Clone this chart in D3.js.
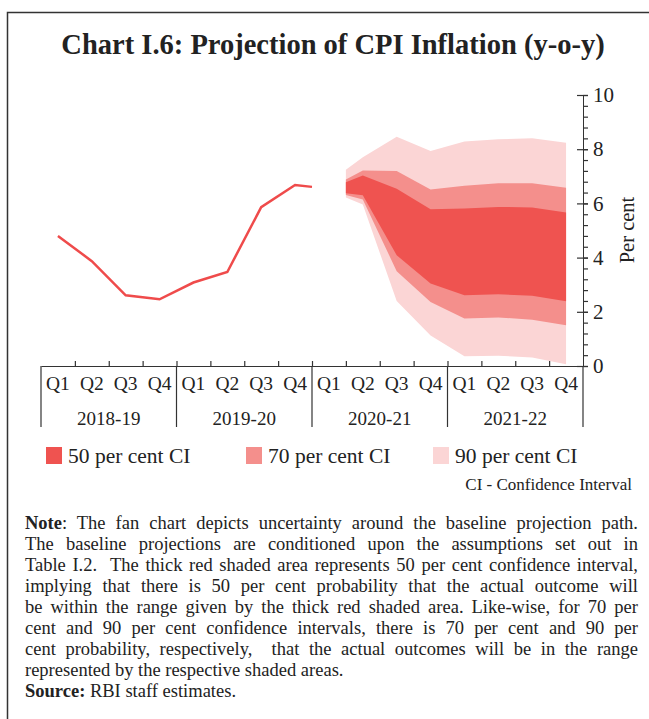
<!DOCTYPE html>
<html>
<head>
<meta charset="utf-8">
<script src="https://cdn.jsdelivr.net/npm/d3@7"></script>
<style>
  body { margin: 0; background: #fff; }
  svg { display: block; font-family: "Liberation Serif", serif; }
</style>
</head>
<body>
<div id="chart"></div>
<script>
// quarters and fiscal years on the x axis
const quarters = ["Q1", "Q2", "Q3", "Q4"];
const years = ["2018-19", "2019-20", "2020-21", "2021-22"];

// actual CPI inflation (position = quarter index, 0 = Q1 2018-19)
const actualPos = [0, 1, 2, 3, 4, 5, 6, 7, 7.5];
const actualVal = [4.80, 3.87, 2.61, 2.46, 3.08, 3.47, 5.86, 6.68, 6.61];

// fan chart bands
const fanPos = [8.5, 9, 10, 11, 12, 13, 14, 15];
const lo90 = [6.22, 5.96, 2.40, 1.13, 0.36, 0.38, 0.31, 0.06];
const lo70 = [6.31, 6.14, 3.50, 2.36, 1.75, 1.79, 1.71, 1.50];
const lo50 = [6.37, 6.30, 4.09, 3.04, 2.61, 2.65, 2.59, 2.39];
const hi50 = [6.78, 7.03, 6.54, 5.78, 5.81, 5.87, 5.85, 5.66];
const hi70 = [6.88, 7.21, 7.20, 6.51, 6.65, 6.74, 6.74, 6.58];
const hi90 = [7.24, 7.70, 8.46, 7.93, 8.28, 8.37, 8.40, 8.24];

const legendLabels = ["50 per cent CI", "70 per cent CI", "90 per cent CI"];

const noteLines = [
  "The fan chart depicts uncertainty around the baseline projection path.",
  "The baseline projections are conditioned upon the assumptions set out in",
  "Table I.2.  The thick red shaded area represents 50 per cent confidence interval,",
  "implying that there is 50 per cent probability that the actual outcome will",
  "be within the range given by the thick red shaded area. Like-wise, for 70 per",
  "cent and 90 per cent confidence intervals, there is 70 per cent and 90 per",
  "cent probability, respectively,  that the actual outcomes will be in the range",
  "represented by the respective shaded areas."
];

const c50 = "#ef5350", c70 = "#f48f8c", c90 = "#fbd5d5", lineColor = "#ef4b4b";

const W = 649, H = 719;
const plotL = 41, plotR = 583, plotT = 95, plotB = 366;

const svg = d3.select("#chart").append("svg")
  .attr("width", W).attr("height", H);

// frame
svg.append("path")
  .attr("d", "M7.5," + H + "V12.5H" + W)
  .attr("fill", "none").attr("stroke", "#333").attr("stroke-width", 1.5);

// title
svg.append("text")
  .attr("x", 333).attr("y", 54)
  .attr("text-anchor", "middle")
  .attr("font-size", 28.5).attr("font-weight", "bold").attr("fill", "#222")
  .text("Chart I.6: Projection of CPI Inflation (y-o-y)");

const x = d3.scaleLinear().domain([-0.5, 15.5]).range([plotL, plotR]);
const y = d3.scaleLinear().domain([0, 10]).range([plotB, plotT]);

const keys = [];
years.forEach(yr => quarters.forEach(q => keys.push(yr + "|" + q)));
const xBand = d3.scaleBand().domain(keys).range([plotL, plotR]);
const xYear = d3.scaleBand().domain(years).range([plotL, plotR]);

// fan areas
const idx = d3.range(fanPos.length);
function band(lo, hi, col) {
  const area = d3.area()
    .x(i => x(fanPos[i]))
    .y0(i => y(lo[i]))
    .y1(i => y(hi[i]));
  svg.append("path").datum(idx).attr("d", area).attr("fill", col);
}
band(lo90, hi90, c90);
band(lo70, hi70, c70);
band(lo50, hi50, c50);

// actual line
const line = d3.line().x(i => x(actualPos[i])).y(i => y(actualVal[i]));
svg.append("path").datum(d3.range(actualPos.length))
  .attr("d", line).attr("fill", "none")
  .attr("stroke", lineColor).attr("stroke-width", 2.5);

// y axis on the right: minor ticks to the right, major ticks through
const yg = svg.append("g").attr("transform", "translate(" + plotR + ",0)");
yg.call(d3.axisRight(y).tickValues(d3.range(0, 10.01, 0.4)).tickSize(5).tickFormat(""));
yg.append("g").call(d3.axisRight(y).tickValues(d3.range(0, 11, 2)).tickSize(5).tickPadding(5));
yg.append("g").call(d3.axisLeft(y).tickValues(d3.range(0, 11, 2)).tickSize(6).tickFormat(""));
yg.selectAll(".domain").attr("stroke", "#333");
yg.selectAll("line").attr("stroke", "#333").attr("stroke-width", 1.2);
yg.selectAll("text").attr("font-size", 21).attr("fill", "#222")
  .attr("font-family", "Liberation Serif");

svg.append("text")
  .attr("transform", "translate(634,230) rotate(-90)")
  .attr("text-anchor", "middle").attr("font-size", 20.5).attr("fill", "#222")
  .text("Per cent");

// x axis: quarter ticks upward
const xg = svg.append("g").attr("transform", "translate(0," + plotB + ")");
xg.call(d3.axisBottom(x).tickValues(d3.range(0.5, 15, 1)).tickSize(-5).tickFormat("").tickSizeOuter(0));
xg.selectAll("line, .domain").attr("stroke", "#333").attr("stroke-width", 1.2);

// quarter labels
const qg = svg.append("g").attr("transform", "translate(0," + plotB + ")");
qg.call(d3.axisBottom(xBand).tickSize(0).tickPadding(10).tickFormat(k => k.split("|")[1]));
qg.select(".domain").remove();
qg.selectAll("text").attr("font-size", 19.5).attr("fill", "#222")
  .attr("font-family", "Liberation Serif").attr("dy", "0.7em");

// year labels
const yrg = svg.append("g").attr("transform", "translate(0," + (plotB + 45) + ")");
yrg.call(d3.axisBottom(xYear).tickSize(0).tickPadding(0));
yrg.select(".domain").remove();
yrg.selectAll("text").attr("font-size", 19).attr("fill", "#222")
  .attr("font-family", "Liberation Serif").attr("dy", "0.72em");

// year separators
const seps = years.map(yr => xYear(yr)).concat([plotR]);
svg.selectAll(".sep").data(seps).enter().append("line")
  .attr("x1", d => d).attr("x2", d => d)
  .attr("y1", plotB).attr("y2", plotB + 61)
  .attr("stroke", "#333").attr("stroke-width", 1.2);

// legend
const legX = [46, 246, 433];
const legCols = [c50, c70, c90];
const leg = svg.selectAll(".leg").data(legendLabels).enter().append("g")
  .attr("transform", (d, i) => "translate(" + legX[i] + ",447)");
leg.append("rect").attr("width", 16).attr("height", 17).attr("fill", (d, i) => legCols[i]);
leg.append("text").attr("x", 22).attr("y", 16)
  .attr("font-size", 21.5).attr("fill", "#222").text(d => d);

svg.append("text")
  .attr("x", 632).attr("y", 490).attr("text-anchor", "end")
  .attr("font-size", 17).attr("fill", "#222")
  .text("CI - Confidence Interval");

// note, justified by adjusting word spacing
const noteLeft = 25, noteRight = 638, noteTop = 529, lh = 21;
noteLines.forEach((s, i) => {
  const t = svg.append("text")
    .attr("x", noteLeft).attr("y", noteTop + i * lh)
    .attr("font-size", 18.5).attr("fill", "#222")
    .attr("xml:space", "preserve");
  if (i === 0) {
    t.append("tspan").attr("font-weight", "bold").text("Note");
    t.append("tspan").text(": " + s);
  } else {
    t.text(s);
  }
  if (i < noteLines.length - 1) {
    const full = (i === 0 ? "Note: " : "") + s;
    const gaps = full.split(" ").length - 1;
    const extra = (noteRight - noteLeft - t.node().getComputedTextLength()) / gaps;
    t.style("word-spacing", extra + "px");
  }
});

const src = svg.append("text")
  .attr("x", noteLeft).attr("y", noteTop + noteLines.length * lh)
  .attr("font-size", 18.5).attr("fill", "#222");
src.append("tspan").attr("font-weight", "bold").text("Source:");
src.append("tspan").text(" RBI staff estimates.");
</script>
</body>
</html>
